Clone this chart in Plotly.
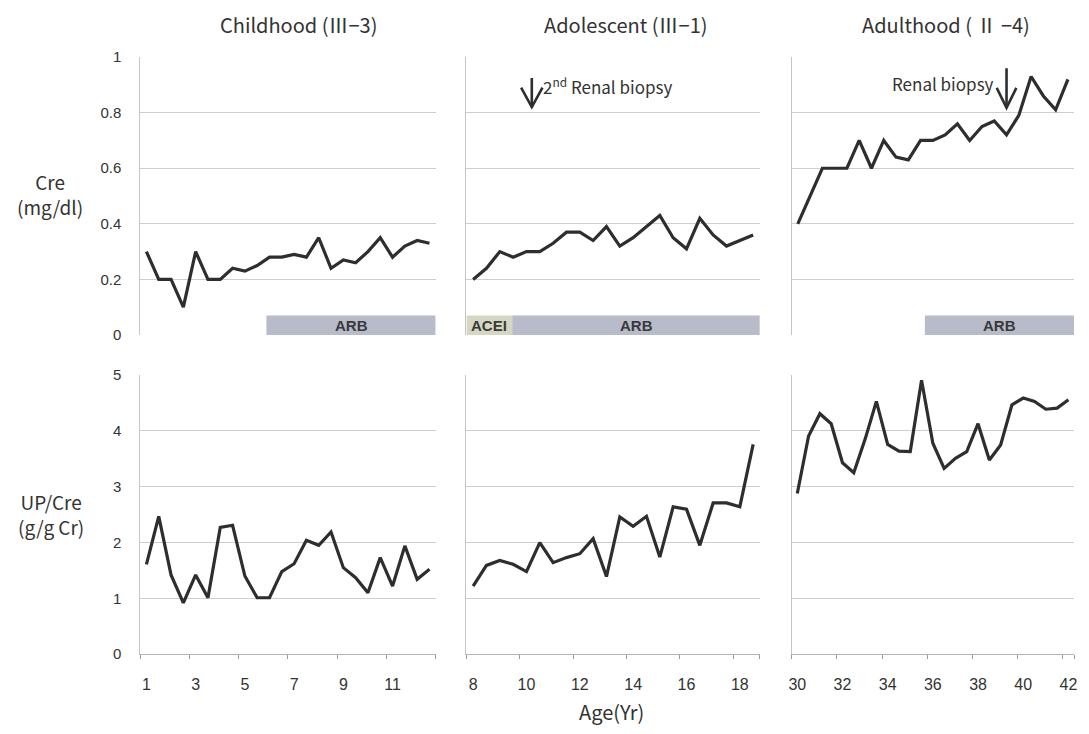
import plotly.graph_objects as go

# ---------------- data ----------------
# Serum creatinine (mg/dl), sequential visits (top row, no age axis shown)
child_cre = [0.30, 0.20, 0.20, 0.10, 0.30, 0.20, 0.20, 0.24, 0.23, 0.25, 0.28, 0.28,
             0.29, 0.28, 0.35, 0.24, 0.27, 0.26, 0.30, 0.35, 0.28, 0.32, 0.34, 0.33]
adol_cre = [0.20, 0.24, 0.30, 0.28, 0.30, 0.30, 0.33, 0.37, 0.37, 0.34, 0.39,
            0.32, 0.35, 0.39, 0.43, 0.35, 0.31, 0.42, 0.36, 0.32, 0.34, 0.36]
adult_cre = [0.40, 0.50, 0.60, 0.60, 0.60, 0.70, 0.60, 0.70, 0.64, 0.63, 0.70, 0.70,
             0.72, 0.76, 0.70, 0.75, 0.77, 0.72, 0.79, 0.93, 0.86, 0.81, 0.92]

# Urinary protein / creatinine (g/g Cr) by age (years)
child_age = [1.0, 1.5, 2.0, 2.5, 3.0, 3.5, 4.0, 4.5, 5.0, 5.5, 6.0, 6.5,
             7.0, 7.5, 8.0, 8.5, 9.0, 9.5, 10.0, 10.5, 11.0, 11.5, 12.0, 12.5]
child_upcr = [1.61, 2.47, 1.42, 0.92, 1.42, 1.01, 2.27, 2.31, 1.40, 1.01, 1.01, 1.48,
              1.62, 2.04, 1.95, 2.19, 1.55, 1.37, 1.10, 1.73, 1.22, 1.94, 1.34, 1.52]
adol_age = [8.0, 8.5, 9.0, 9.5, 10.0, 10.5, 11.0, 11.5, 12.0, 12.5, 13.0,
            13.5, 14.0, 14.5, 15.0, 15.5, 16.0, 16.5, 17.0, 17.5, 18.0, 18.5]
adol_upcr = [1.22, 1.59, 1.68, 1.61, 1.48, 2.00, 1.64, 1.73, 1.80, 2.07, 1.39,
             2.46, 2.29, 2.47, 1.74, 2.64, 2.60, 1.95, 2.71, 2.71, 2.64, 3.76]
adult_age = [30.0, 30.5, 31.0, 31.5, 32.0, 32.5, 33.0, 33.5, 34.0, 34.5, 35.0, 35.5,
             36.0, 36.5, 37.0, 37.5, 38.0, 38.5, 39.0, 39.5, 40.0, 40.5, 41.0, 41.5, 42.0]
adult_upcr = [2.88, 3.91, 4.31, 4.13, 3.43, 3.25, 3.85, 4.53, 3.76, 3.64, 3.63, 4.91,
              3.78, 3.33, 3.51, 3.63, 4.13, 3.48, 3.75, 4.47, 4.59, 4.53, 4.39, 4.41, 4.56]

# x tick labels
child_ticks = [1, 3, 5, 7, 9, 11]
adol_ticks = [8, 10, 12, 14, 16, 18]
adult_ticks = [30, 32, 34, 36, 38, 40, 42]

# panel titles
titles = ["Childhood (Ⅲ−3)", "Adolescent (Ⅲ−1)", "Adulthood ( Ⅱ −4)"]

# treatment periods (in visit units on the creatinine panels)
child_arb_start = 10.75
adol_acei_end = 3.93
adult_arb_start = 11.35
# renal biopsy timing (visit units)
adol_biopsy_visit = 5.4
adult_biopsy_visit = 18.0

# ---------------- styling ----------------
LINE = "#2e2e2e"
GRID = "#cdcdd2"
AXL = "#c4c4c8"
TXT = "#333333"
ARB_COL = "#b8bbca"
ACEI_COL = "#d6d7c3"
JP = "Noto Sans CJK JP"
AR = "Liberation Sans"

# figure placement inside the page (body margin / capture offset)
OFF_X = 8
OFF_Y = 17.1
SCALE_Y = 0.9765
W, H = 1089 - OFF_X, 734

def fx(X):
    return (X - OFF_X) / W
def fy(Y):
    return 1 - ((Y - OFF_Y) / SCALE_Y) / H
def px_x(a, b):
    return [fx(a), fx(b)]
def px_y(top, bot):
    return [fy(bot), fy(top)]

xdoms = [px_x(138, 435), px_x(466, 761), px_x(793, 1077)]
ydom_top = px_y(57, 335)
ydom_bot = px_y(375, 654)

fig = go.Figure()

cre_sets = [child_cre, adol_cre, adult_cre]
up_sets = [(child_age, child_upcr), (adol_age, adol_upcr), (adult_age, adult_upcr)]
tick_sets = [child_ticks, adol_ticks, adult_ticks]

for i, cre in enumerate(cre_sets):
    n = i + 1
    fig.add_trace(go.Scatter(x=list(range(1, len(cre) + 1)), y=cre, mode="lines",
                             line=dict(color=LINE, width=3.2), xaxis=f"x{n}", yaxis=f"y{n}",
                             showlegend=False, hoverinfo="skip"))
for i, (ages, up) in enumerate(up_sets):
    n = i + 4
    fig.add_trace(go.Scatter(x=ages, y=up, mode="lines",
                             line=dict(color=LINE, width=3.2), xaxis=f"x{n}", yaxis=f"y{n}",
                             showlegend=False, hoverinfo="skip"))

layout = dict(width=W, height=H, margin=dict(l=0, r=0, t=0, b=0), autosize=False,
              paper_bgcolor="white", plot_bgcolor="white", showlegend=False)

for i, cre in enumerate(cre_sets):
    n = i + 1
    sfx = "" if n == 1 else str(n)
    layout["xaxis" + sfx] = dict(domain=xdoms[i], range=[0.5, len(cre) + 0.5], anchor=f"y{n}",
                                 showticklabels=False, showgrid=False, zeroline=False,
                                 showline=False, ticks="")
    layout["yaxis" + sfx] = dict(domain=ydom_top, range=[0, 1.0005], anchor=f"x{n}",
                                 tickvals=[0, 0.2, 0.4, 0.6, 0.8, 1],
                                 ticktext=["0", "0.2", "0.4", "0.6", "0.8", "1"],
                                 showticklabels=(n == 1), showgrid=True, gridcolor=GRID,
                                 gridwidth=1, zeroline=False, showline=True, linecolor=AXL,
                                 linewidth=1, ticks="outside", ticklen=15,
                                 tickcolor="rgba(0,0,0,0)",
                                 tickfont=dict(family=AR, size=15, color=TXT))

for i, (ages, up) in enumerate(up_sets):
    n = i + 4
    ticks = tick_sets[i]
    lo = ages[0] - 0.25
    hi = ages[-1] + 0.25
    minor_vals = [t - 0.25 for t in ticks] + [hi]
    layout[f"xaxis{n}"] = dict(domain=xdoms[i], range=[lo, hi], anchor=f"y{n}",
                               tickvals=ticks, ticktext=[str(t) for t in ticks],
                               ticks="outside", ticklen=16, tickcolor="rgba(0,0,0,0)",
                               ticklabeloverflow="allow",
                               tickfont=dict(family=AR, size=16, color=TXT),
                               showgrid=False, zeroline=False, showline=True,
                               linecolor="#b5b5ba", linewidth=1,
                               minor=dict(tickvals=minor_vals, ticks="outside", ticklen=4,
                                          tickcolor="#9a9aa0", showgrid=False))
    layout[f"yaxis{n}"] = dict(domain=ydom_bot, range=[0, 5.003], anchor=f"x{n}",
                               tickvals=[0, 1, 2, 3, 4, 5],
                               showticklabels=(n == 4), showgrid=True, gridcolor=GRID,
                               gridwidth=1, zeroline=False, showline=True, linecolor=AXL,
                               linewidth=1, ticks="outside", ticklen=15,
                               tickcolor="rgba(0,0,0,0)",
                               tickfont=dict(family=AR, size=15, color=TXT))

fig.update_layout(**layout)

# treatment bars
BAR_TOP = 0.07
bars = [
    ("x", "y", child_arb_start, len(child_cre) + 0.5, ARB_COL, "ARB"),
    ("x2", "y2", 0.5, adol_acei_end, ACEI_COL, "ACEI"),
    ("x2", "y2", adol_acei_end, len(adol_cre) + 0.5, ARB_COL, "ARB"),
    ("x3", "y3", adult_arb_start, len(adult_cre) + 0.5, ARB_COL, "ARB"),
]
for xr, yr, x0, x1, col, lab in bars:
    fig.add_shape(type="rect", xref=xr, yref=yr, x0=x0, x1=x1, y0=0, y1=BAR_TOP,
                  fillcolor=col, line=dict(width=0), layer="below")
    fig.add_annotation(xref=xr, yref=yr, x=(x0 + x1) / 2, y=BAR_TOP / 2,
                       text=f"<b>{lab}</b>", showarrow=False,
                       font=dict(family=AR, size=15, color="#3a3a3a"), yanchor="middle")

# biopsy arrows
def add_arrow(xr, yr, bx, ytop, ytip, dx, dy):
    fig.add_shape(type="line", xref=xr, yref=yr, x0=bx, x1=bx, y0=ytop, y1=ytip,
                  line=dict(color=LINE, width=2.6))
    fig.add_shape(type="path", xref=xr, yref=yr,
                  path=f"M {bx - dx},{ytip + dy} L {bx},{ytip} L {bx + dx},{ytip + dy}",
                  line=dict(color=LINE, width=2.6))

add_arrow("x2", "y2", adol_biopsy_visit, 0.925, 0.82, 0.8, 0.07)
add_arrow("x3", "y3", adult_biopsy_visit, 0.96, 0.817, 0.8, 0.072)

fig.add_annotation(xref="x2", yref="y2", x=adol_biopsy_visit, y=0.895, xshift=9,
                   xanchor="left", yanchor="middle", showarrow=False,
                   text="2<sup>nd</sup> Renal biopsy", font=dict(family=JP, size=17, color=TXT))
fig.add_annotation(xref="x3", yref="y3", x=adult_biopsy_visit, y=0.905, xshift=-11,
                   xanchor="right", yanchor="middle", showarrow=False,
                   text="Renal biopsy", font=dict(family=JP, size=17, color=TXT))

# titles
title_x = [297, 626, 948]
for t, cx in zip(titles, title_x):
    fig.add_annotation(xref="paper", yref="paper", x=fx(cx), y=fy(25), text=t,
                       showarrow=False, xanchor="center", yanchor="middle",
                       font=dict(family=JP, size=20, color=TXT))

# y axis titles
fig.add_annotation(xref="paper", yref="paper", x=fx(47), y=fy(194),
                   text="Cre<br>(mg/dl)", showarrow=False, xanchor="center", yanchor="middle",
                   font=dict(family=JP, size=19, color=TXT))
fig.add_annotation(xref="paper", yref="paper", x=fx(48), y=fy(514),
                   text="UP/Cre<br>(g/g Cr)", showarrow=False, xanchor="center",
                   yanchor="middle", font=dict(family=JP, size=19, color=TXT))

# x axis title
fig.add_annotation(xref="paper", yref="paper", x=fx(612), y=fy(711),
                   text="Age(Yr)", showarrow=False, xanchor="center", yanchor="middle",
                   font=dict(family=JP, size=20, color=TXT))

fig.write_html("out.html")
